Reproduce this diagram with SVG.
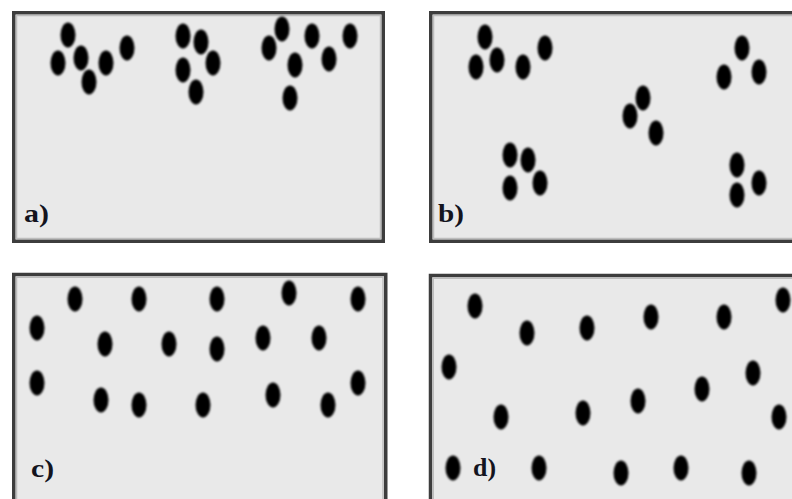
<svg xmlns="http://www.w3.org/2000/svg" width="792" height="499" viewBox="0 0 792 499">
<defs>
<filter id="soft" x="-50%" y="-50%" width="200%" height="200%"><feGaussianBlur stdDeviation="0.9"/></filter>
<filter id="softline" x="-5%" y="-5%" width="110%" height="110%"><feGaussianBlur stdDeviation="0.6"/></filter>
</defs>
<style>
.frame{fill:#e9e9e9;stroke:#3e3e3e;stroke-width:3.5;filter:url(#softline)}
.inner{fill:none;stroke:#bdbdbd;stroke-width:1.5}
.dots ellipse{fill:#000;filter:url(#soft)}
.lbl{font-family:"Liberation Serif","Times New Roman",serif;font-weight:bold;font-size:26px;fill:#14141e}
</style>
<rect width="792" height="499" fill="#ffffff"/>

<g id="panel-a">
<rect class="frame" x="13.75" y="12.75" width="369.5" height="228.5"/>
<rect class="inner" x="16.5" y="15.5" width="364" height="223"/>
<g class="dots">
<ellipse cx="68" cy="35" rx="7.5" ry="12.5"/>
<ellipse cx="58" cy="63" rx="7.5" ry="12.5"/>
<ellipse cx="81" cy="58" rx="7.5" ry="12.5"/>
<ellipse cx="89" cy="82" rx="7.5" ry="12.5"/>
<ellipse cx="106" cy="63" rx="7.5" ry="12.5"/>
<ellipse cx="127" cy="48" rx="7.5" ry="12.5"/>
<ellipse cx="183" cy="36" rx="7.5" ry="12.5"/>
<ellipse cx="201" cy="42" rx="7.5" ry="12.5"/>
<ellipse cx="213" cy="63" rx="7.5" ry="12.5"/>
<ellipse cx="183" cy="70" rx="7.5" ry="12.5"/>
<ellipse cx="196" cy="92" rx="7.5" ry="12.5"/>
<ellipse cx="282" cy="29" rx="7.5" ry="12.5"/>
<ellipse cx="269" cy="48" rx="7.5" ry="12.5"/>
<ellipse cx="312" cy="36" rx="7.5" ry="12.5"/>
<ellipse cx="350" cy="36" rx="7.5" ry="12.5"/>
<ellipse cx="295" cy="65" rx="7.5" ry="12.5"/>
<ellipse cx="329" cy="59" rx="7.5" ry="12.5"/>
<ellipse cx="290" cy="98" rx="7.5" ry="12.5"/>
</g>
<text class="lbl" x="24" y="222" textLength="25" lengthAdjust="spacingAndGlyphs">a)</text>
</g>

<g id="panel-b">
<rect class="frame" x="430.75" y="12.75" width="400" height="228.5"/>
<rect class="inner" x="433.5" y="15.5" width="400" height="223"/>
<g class="dots">
<ellipse cx="485" cy="37" rx="7.5" ry="12.5"/>
<ellipse cx="476" cy="67" rx="7.5" ry="12.5"/>
<ellipse cx="497" cy="60" rx="7.5" ry="12.5"/>
<ellipse cx="523" cy="67" rx="7.5" ry="12.5"/>
<ellipse cx="545" cy="48" rx="7.5" ry="12.5"/>
<ellipse cx="742" cy="48" rx="7.5" ry="12.5"/>
<ellipse cx="724" cy="77" rx="7.5" ry="12.5"/>
<ellipse cx="759" cy="72" rx="7.5" ry="12.5"/>
<ellipse cx="643" cy="98" rx="7.5" ry="12.5"/>
<ellipse cx="630" cy="116" rx="7.5" ry="12.5"/>
<ellipse cx="656" cy="133" rx="7.5" ry="12.5"/>
<ellipse cx="510" cy="155" rx="7.5" ry="12.5"/>
<ellipse cx="528" cy="160" rx="7.5" ry="12.5"/>
<ellipse cx="510" cy="188" rx="7.5" ry="12.5"/>
<ellipse cx="540" cy="183" rx="7.5" ry="12.5"/>
<ellipse cx="737" cy="165" rx="7.5" ry="12.5"/>
<ellipse cx="737" cy="195" rx="7.5" ry="12.5"/>
<ellipse cx="759" cy="183" rx="7.5" ry="12.5"/>
</g>
<text class="lbl" x="438" y="222" textLength="26" lengthAdjust="spacingAndGlyphs">b)</text>
</g>

<g id="panel-c">
<rect class="frame" x="13.75" y="274.5" width="372" height="260"/>
<rect class="inner" x="16.5" y="277.25" width="366.5" height="260"/>
<g class="dots">
<ellipse cx="75" cy="299" rx="7.5" ry="12.5"/>
<ellipse cx="139" cy="299" rx="7.5" ry="12.5"/>
<ellipse cx="217" cy="299" rx="7.5" ry="12.5"/>
<ellipse cx="289" cy="293" rx="7.5" ry="12.5"/>
<ellipse cx="358" cy="299" rx="7.5" ry="12.5"/>
<ellipse cx="37" cy="328" rx="7.5" ry="12.5"/>
<ellipse cx="105" cy="344" rx="7.5" ry="12.5"/>
<ellipse cx="169" cy="344" rx="7.5" ry="12.5"/>
<ellipse cx="217" cy="349" rx="7.5" ry="12.5"/>
<ellipse cx="263" cy="338" rx="7.5" ry="12.5"/>
<ellipse cx="319" cy="338" rx="7.5" ry="12.5"/>
<ellipse cx="37" cy="383" rx="7.5" ry="12.5"/>
<ellipse cx="101" cy="400" rx="7.5" ry="12.5"/>
<ellipse cx="139" cy="405" rx="7.5" ry="12.5"/>
<ellipse cx="203" cy="405" rx="7.5" ry="12.5"/>
<ellipse cx="273" cy="395" rx="7.5" ry="12.5"/>
<ellipse cx="328" cy="405" rx="7.5" ry="12.5"/>
<ellipse cx="358" cy="383" rx="7.5" ry="12.5"/>
</g>
<text class="lbl" x="31" y="477" textLength="23" lengthAdjust="spacingAndGlyphs">c)</text>
</g>

<g id="panel-d">
<rect class="frame" x="430.5" y="275.5" width="400" height="260"/>
<rect class="inner" x="433.25" y="278.25" width="400" height="260"/>
<g class="dots">
<ellipse cx="475" cy="306" rx="7.5" ry="12.5"/>
<ellipse cx="527" cy="333" rx="7.5" ry="12.5"/>
<ellipse cx="587" cy="328" rx="7.5" ry="12.5"/>
<ellipse cx="651" cy="317" rx="7.5" ry="12.5"/>
<ellipse cx="724" cy="317" rx="7.5" ry="12.5"/>
<ellipse cx="783" cy="300" rx="7.5" ry="12.5"/>
<ellipse cx="449" cy="367" rx="7.5" ry="12.5"/>
<ellipse cx="501" cy="417" rx="7.5" ry="12.5"/>
<ellipse cx="583" cy="413" rx="7.5" ry="12.5"/>
<ellipse cx="638" cy="401" rx="7.5" ry="12.5"/>
<ellipse cx="702" cy="389" rx="7.5" ry="12.5"/>
<ellipse cx="753" cy="373" rx="7.5" ry="12.5"/>
<ellipse cx="779" cy="417" rx="7.5" ry="12.5"/>
<ellipse cx="453" cy="468" rx="7.5" ry="12.5"/>
<ellipse cx="539" cy="468" rx="7.5" ry="12.5"/>
<ellipse cx="621" cy="473" rx="7.5" ry="12.5"/>
<ellipse cx="681" cy="468" rx="7.5" ry="12.5"/>
<ellipse cx="749" cy="473" rx="7.5" ry="12.5"/>
</g>
<text class="lbl" x="473" y="476" textLength="23" lengthAdjust="spacingAndGlyphs">d)</text>
</g>
</svg>
